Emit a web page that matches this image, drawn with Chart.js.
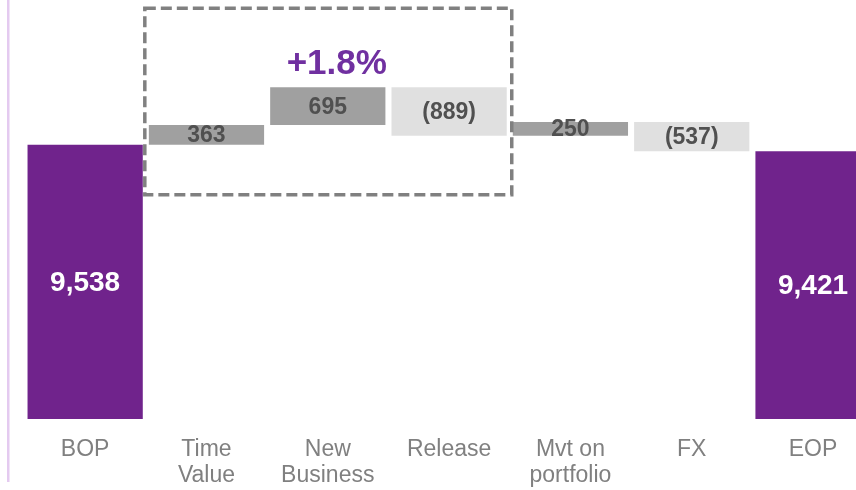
<!DOCTYPE html>
<html>
<head>
<meta charset="utf-8">
<script src="https://cdn.jsdelivr.net/npm/chart.js@4"></script>
<style>
  html, body { margin: 0; padding: 0; background: #fff; overflow: hidden; }
  #wrap { position: relative; width: 880px; height: 490px; }
</style>
</head>
<body>
<div id="wrap"><canvas id="bridge"></canvas></div>
<script>
// ─── DATA ─────────────────────────────────────────────────────────────────────
const categories = ['BOP', ['Time', 'Value'], ['New', 'Business'], 'Release', ['Mvt on', 'portfolio'], 'FX', 'EOP'];
const values     = [9538, 363, 695, -889, 250, -537, 9421];
const isTotal    = [true, false, false, false, false, false, true];
const valueText  = ['9,538', '363', '695', '(889)', '250', '(537)', '9,421'];
const axisMin    = 4500;
const axisMax    = 12200;
const growthText = '+1.8%';

// ─── COLOURS ──────────────────────────────────────────────────────────────────
const purple = '#70238C';
const upGrey = '#A0A0A0';
const downGrey = '#E0E0E0';

// running waterfall ranges
let running = 0;
const ranges = values.map((v, i) => {
    if (isTotal[i]) { running = v; return [axisMin, v]; }
    const start = running;
    running += v;
    return [start, running];
});
const fills = values.map((v, i) => isTotal[i] ? purple : (v >= 0 ? upGrey : downGrey));

// ─── PLUGINS ──────────────────────────────────────────────────────────────────
const decorations = {
    id: 'decorations',
    afterDatasetsDraw(chart) {
        const { ctx, scales: { x, y } } = chart;
        const bars = chart.getDatasetMeta(0).data;

        // value labels inside bars
        ctx.save();
        ctx.textAlign = 'center';
        ctx.textBaseline = 'middle';
        bars.forEach((bar, i) => {
            const cy = (bar.y + bar.base) / 2;
            if (isTotal[i]) {
                ctx.font = "bold 28px 'Liberation Sans', Arial, sans-serif";
                ctx.fillStyle = '#FFFFFF';
            } else {
                ctx.font = "bold 23px 'Liberation Sans', Arial, sans-serif";
                ctx.fillStyle = '#505050';
            }
            ctx.fillText(valueText[i], bar.x, cy + 1);
        });

        // dashed box round the operating movements
        const left = x.getPixelForValue(0.5) - 1;
        const right = x.getPixelForValue(3.5) + 2;
        const top = y.getPixelForValue(12050);
        const bottom = y.getPixelForValue(8620);
        ctx.setLineDash([11, 5]);
        ctx.lineWidth = 3.5;
        ctx.strokeStyle = '#808080';
        ctx.strokeRect(left, top, right - left, bottom - top);
        ctx.setLineDash([]);

        // growth annotation
        ctx.font = "bold 35px 'Liberation Sans', Arial, sans-serif";
        ctx.fillStyle = '#7030A0';
        ctx.fillText(growthText, x.getPixelForValue(2) + 9, y.getPixelForValue(11010));

        // thin lavender rule on the left
        ctx.fillStyle = '#E4CAF0';
        ctx.fillRect(7, 0, 2.5, 482);
        ctx.restore();
    }
};

// ─── CHART ────────────────────────────────────────────────────────────────────
new Chart(document.getElementById('bridge'), {
    type: 'bar',
    data: {
        labels: categories,
        datasets: [{
            data: ranges,
            backgroundColor: fills,
            borderWidth: 0,
            borderSkipped: false,
            barPercentage: 0.95,
            categoryPercentage: 1
        }]
    },
    options: {
        responsive: true,
        maintainAspectRatio: false,
        animation: false,
        layout: { padding: { left: 24.5, right: 6.3, top: 0, bottom: 0 } },
        plugins: { legend: { display: false }, tooltip: { enabled: false } },
        scales: {
            x: {
                grid: { display: false, drawTicks: false },
                border: { display: false },
                afterFit: (scale) => { scale.height = 71; },
                ticks: {
                    color: '#808080',
                    padding: 17,
                    maxRotation: 0,
                    autoSkip: false,
                    font: { family: "'Liberation Sans', Arial, sans-serif", size: 23, lineHeight: 1.16 }
                }
            },
            y: {
                display: false,
                min: axisMin,
                max: axisMax
            }
        }
    },
    plugins: [decorations]
});
</script>
</body>
</html>
